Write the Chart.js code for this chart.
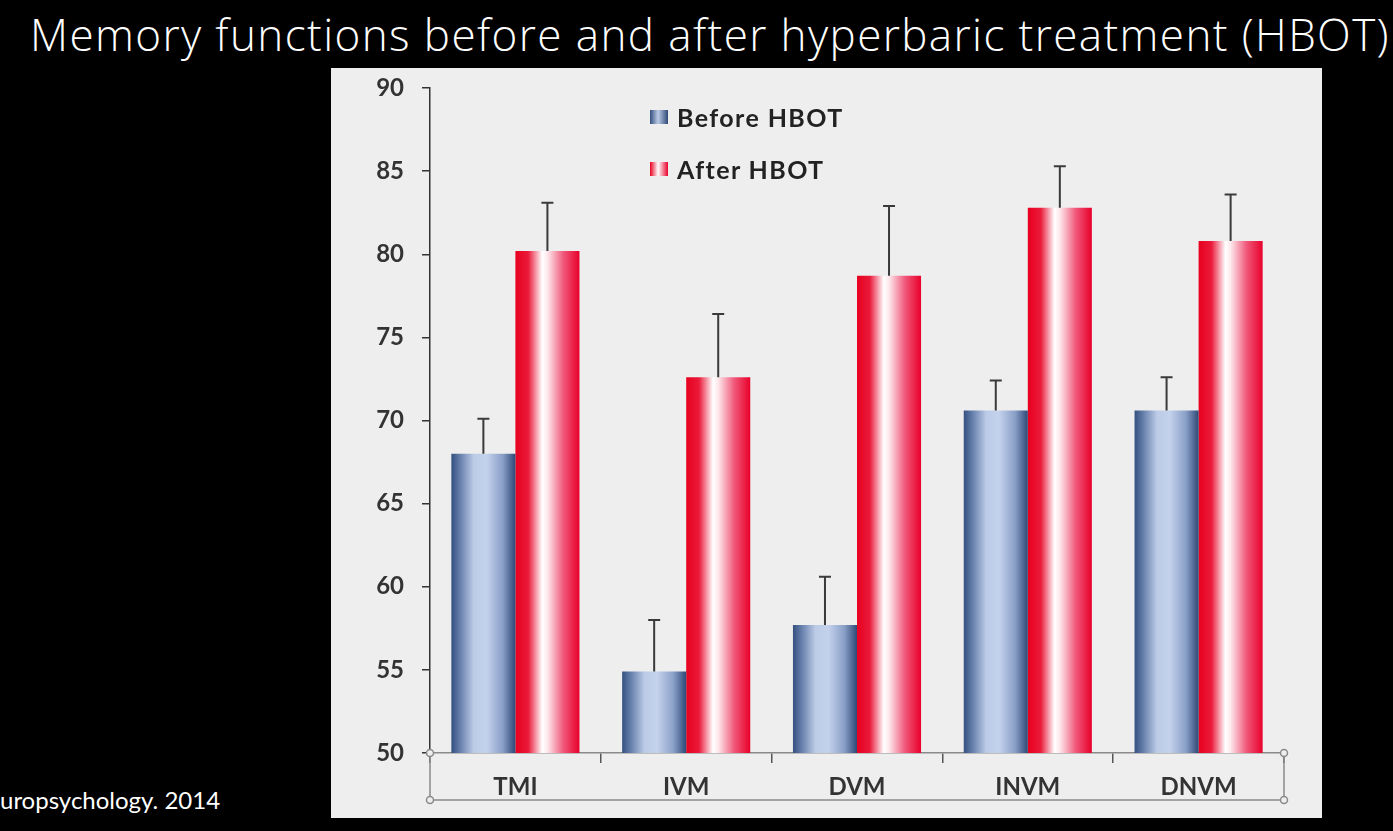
<!DOCTYPE html>
<html>
<head>
<meta charset="utf-8">
<script src="https://cdn.jsdelivr.net/npm/chart.js@4/dist/chart.umd.min.js"></script>
<style>
  html, body { margin: 0; padding: 0; background: #000; overflow: hidden; }
  body { width: 1393px; height: 831px; position: relative; }
  #title {
    position: absolute; left: 30px; top: 4px; white-space: nowrap; letter-spacing: 1.4px;
    font-family: "Open Sans", sans-serif; font-weight: 300; font-size: 44px; color: #fff;
  }
  #panel {
    position: absolute; left: 331px; top: 68px; width: 991px; height: 750px; background: #eeeeee;
  }
  #legend {
    position: absolute; left: 650px; top: 102px; letter-spacing: 1.4px;
    font-family: Lato, sans-serif; font-weight: 700; font-size: 25px; color: #222;
  }
  .item { display: flex; align-items: center; height: 30px; margin-bottom: 22px; }
  .swatch { width: 18px; height: 14px; margin-right: 9px; }
  #source {
    position: absolute; left: 0; top: 785px; white-space: nowrap;
    font-family: Lato, sans-serif; font-size: 24px; color: #fff;
  }
</style>
</head>
<body>
<div id="title">Memory functions before and after hyperbaric treatment (HBOT)</div>
<div id="panel"><canvas id="memChart" width="991" height="750"></canvas></div>
<div id="legend">
  <div class="item"><span class="swatch" style="background:linear-gradient(90deg,#34507f,#bccbe6 45%,#2e4876)"></span>Before HBOT</div>
  <div class="item"><span class="swatch" style="background:linear-gradient(90deg,#e8001f,#fff 45%,#e8002a)"></span>After HBOT</div>
</div>
<div id="source">uropsychology. 2014</div>
<script>
// chart data
const categories = ['TMI', 'IVM', 'DVM', 'INVM', 'DNVM'];
const beforeValues = [68.0, 54.9, 57.7, 70.6, 70.6];
const afterValues = [80.2, 72.6, 78.7, 82.8, 80.8];
const beforeErrors = [2.1, 3.1, 2.9, 1.8, 2.0];
const afterErrors = [2.9, 3.8, 4.2, 2.5, 2.8];
const yTicks = [50, 55, 60, 65, 70, 75, 80, 85, 90];

const blueStops = [[0, '#34507f'], [0.15, '#6b84b0'], [0.35, '#bccbe6'], [0.55, '#c4d2ec'], [0.8, '#8aa0c8'], [1, '#2e4876']];
const redStops = [[0, '#e8001f'], [0.2, '#ea1a3a'], [0.42, '#ffffff'], [0.5, '#fde8ec'], [0.75, '#f0587a'], [1, '#e8002a']];
const CAT_PCT = 0.75;

// Gradient per bar, computed from the category scale
function barGradient(stops, solid) {
    return (ctx) => {
        const chart = ctx.chart;
        const xs = chart.scales.x;
        if (ctx.type !== 'data' || !chart.chartArea || !xs) return solid;
        const center = xs.getPixelForValue(ctx.dataIndex);
        const catW = xs.width / categories.length;
        const barW = catW * CAT_PCT / 2;
        const x0 = ctx.datasetIndex === 0 ? center - barW : center;
        const g = chart.ctx.createLinearGradient(x0, 0, x0 + barW, 0);
        stops.forEach(s => g.addColorStop(s[0], s[1]));
        return g;
    };
}

// Error bars (upper only) drawn with the y scale
const errorBars = {
    id: 'errorBars',
    afterDatasetsDraw(chart) {
        const ctx = chart.ctx;
        const ys = chart.scales.y;
        const errs = [beforeErrors, afterErrors];
        chart.data.datasets.forEach((ds, di) => {
            const meta = chart.getDatasetMeta(di);
            meta.data.forEach((bar, i) => {
                const top = ys.getPixelForValue(ds.data[i] + errs[di][i]);
                ctx.save();
                ctx.strokeStyle = '#3a3a3a';
                ctx.lineWidth = 2;
                ctx.beginPath();
                ctx.moveTo(bar.x, bar.y);
                ctx.lineTo(bar.x, top);
                ctx.moveTo(bar.x - 6, top);
                ctx.lineTo(bar.x + 6, top);
                ctx.stroke();
                ctx.restore();
            });
        });
    }
};

// Box round the category labels, with small handles at the corners
const labelBox = {
    id: 'labelBox',
    afterDraw(chart) {
        const ctx = chart.ctx;
        const a = chart.chartArea;
        const bottom = a.bottom + 47;
        ctx.save();
        ctx.strokeStyle = '#8a8a8a';
        ctx.lineWidth = 1.5;
        ctx.beginPath();
        ctx.moveTo(a.left, a.bottom);
        ctx.lineTo(a.left, bottom);
        ctx.lineTo(a.right, bottom);
        ctx.lineTo(a.right, a.bottom);
        ctx.stroke();
        [[a.left, a.bottom], [a.left, bottom], [a.right, a.bottom], [a.right, bottom]].forEach(p => {
            ctx.beginPath();
            ctx.arc(p[0], p[1], 3.5, 0, Math.PI * 2);
            ctx.fillStyle = '#eeeeee';
            ctx.fill();
            ctx.stroke();
        });
        ctx.restore();
    }
};

const chart = new Chart(document.getElementById('memChart'), {
    type: 'bar',
    data: {
        labels: categories,
        datasets: [
            { label: 'Before HBOT', data: beforeValues, backgroundColor: barGradient(blueStops, '#8aa0c8') },
            { label: 'After HBOT', data: afterValues, backgroundColor: barGradient(redStops, '#e8002a') }
        ]
    },
    options: {
        responsive: false,
        animation: false,
        categoryPercentage: CAT_PCT,
        barPercentage: 1.0,
        layout: { padding: { left: 0, top: 20, right: 38, bottom: 0 } },
        plugins: { legend: { display: false }, tooltip: { enabled: false } },
        scales: {
            x: {
                afterFit: (s) => { s.height = 65; },
                grid: { offset: true, drawOnChartArea: false, tickLength: 10, color: '#555', lineWidth: 1.5 },
                border: { color: '#8a8a8a', width: 1.5 },
                ticks: { padding: 10, color: '#333', font: { family: 'Lato', weight: 'bold', size: 24 } }
            },
            y: {
                min: 50,
                max: 90,
                afterFit: (s) => { s.width = 99; s.paddingTop = 0; s.paddingBottom = 0; },
                afterBuildTicks: (s) => { s.ticks = yTicks.map(v => ({ value: v })); },
                grid: { drawOnChartArea: false, tickLength: 8, color: '#333', lineWidth: 1.5 },
                border: { color: '#333', width: 1.5 },
                ticks: { padding: 18, color: '#333', font: { family: 'Lato', weight: 'bold', size: 24 } }
            }
        }
    },
    plugins: [errorBars, labelBox]
});
</script>
</body>
</html>
